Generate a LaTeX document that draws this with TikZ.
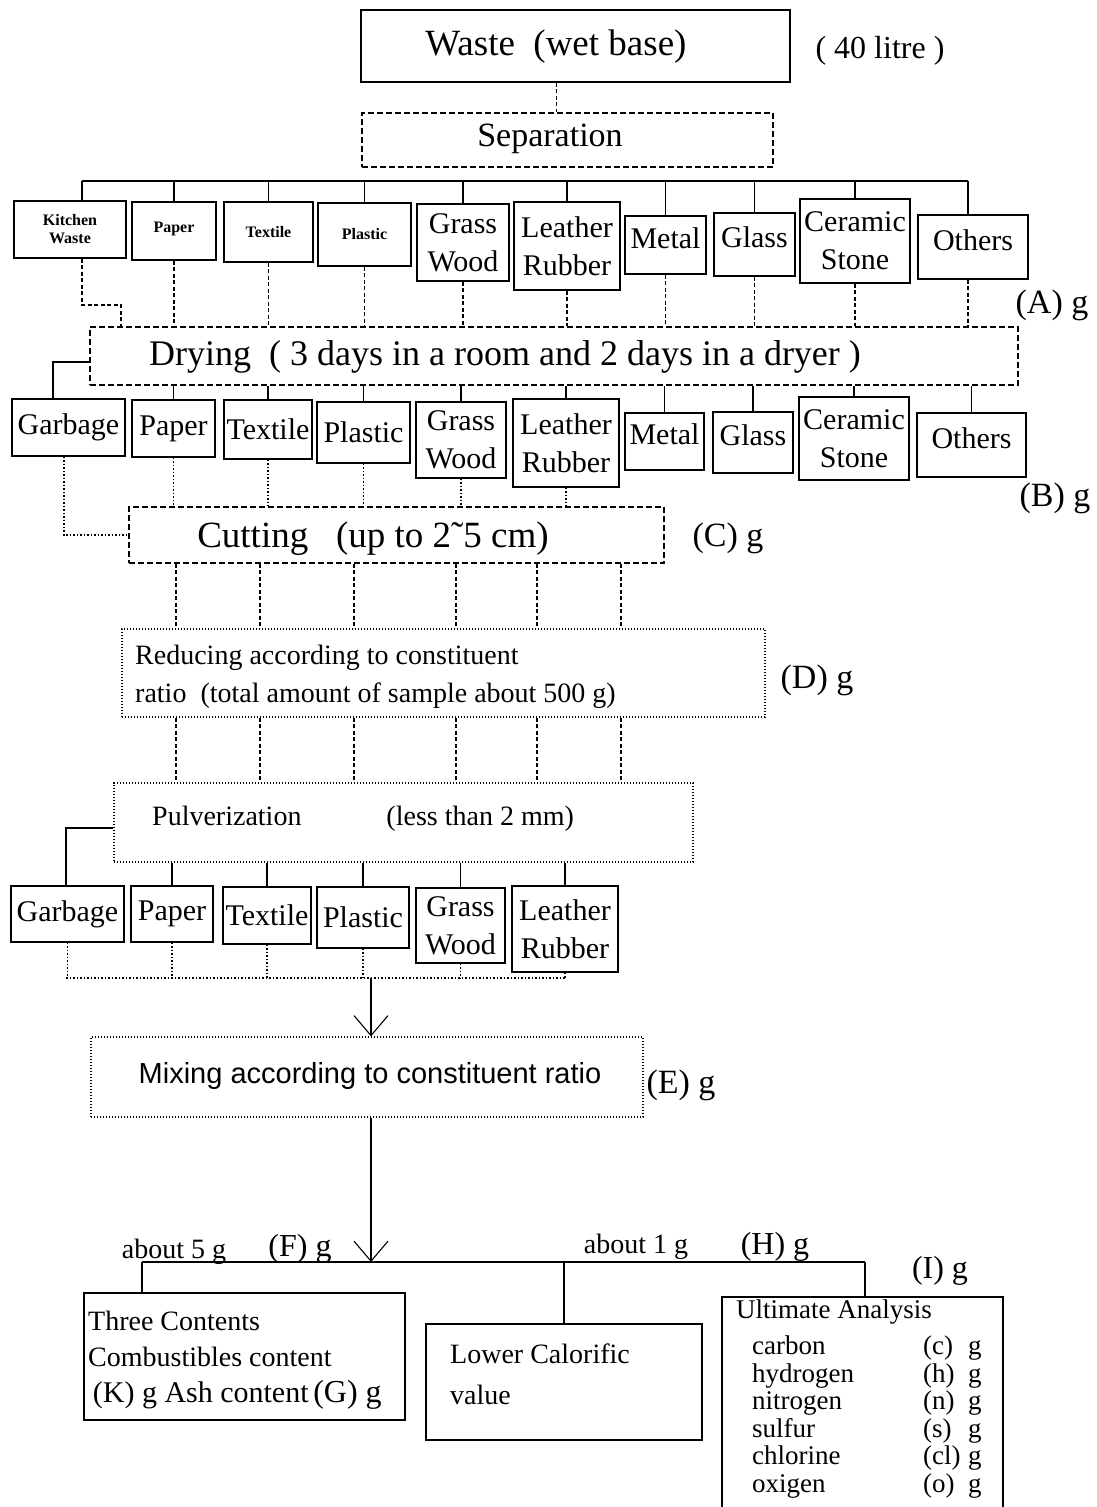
\documentclass[tikz,border=0pt]{standalone}
\usepackage{fontspec}
\setmainfont{Liberation Serif}
\newfontfamily\arialf{Liberation Sans}
\usetikzlibrary{arrows.meta,positioning}

\begin{document}
\begin{tikzpicture}[x=1pt,y=-1pt,
  boxat/.style n args={4}{at={({(#1+#3)/2},{(#2+#4)/2})},minimum width={(#3-#1)*1pt},minimum height={(#4-#2)*1pt}},
  bx/.style={draw,line width=1.1pt,inner sep=0pt,align=center},
  dbx/.style={bx,dash pattern=on 6pt off 3pt},
  obx/.style={bx,dash pattern=on 1.2pt off 1.8pt},
  ln/.style={line width=1.1pt},
  dln/.style={ln,dash pattern=on 4pt off 2.5pt},
  oln/.style={ln,dash pattern=on 1.5pt off 2pt},
  arr/.style={ln,-{Straight Barb[length=20pt,width=34pt]}},
  sm/.style={font=\bfseries\fontsize{16}{18}\selectfont},
  lg/.style={font=\fontsize{30}{38}\selectfont},
  hi/.style={text depth=14pt},
  tx/.style={inner sep=0pt,font=\fontsize{28}{36}\selectfont},
  gx/.style={inner sep=0pt,font=\fontsize{34}{38}\selectfont}]
\useasboundingbox (0,0) rectangle (1096,1507);

\node[bx,boxat={361}{10}{790}{82}] (waste) {};
\node[inner sep=0pt,font=\fontsize{37}{40}\selectfont] (wastet) at (556,47) {Waste\hspace{0.5em}(wet base)};
\node[inner sep=0pt,font=\fontsize{32}{36}\selectfont] (litre) at (880,51) {( 40 litre )};
\node[dbx,boxat={362}{113}{773}{167}] (sep) {};
\node[inner sep=0pt,font=\fontsize{34}{38}\selectfont] (sept) at (550,139) {Separation};

\node[bx,sm,boxat={14}{201}{126}{258}] (kw) {Kitchen\\Waste};
\node[bx,sm,boxat={132}{202}{216}{260},text depth=8pt] (pa1) {Paper};
\node[bx,sm,boxat={224}{202}{313}{262}] (te1) {Textile};
\node[bx,sm,boxat={318}{203}{411}{266}] (pl1) {Plastic};
\node[bx,lg,boxat={417}{204}{509}{281}] (gw1) {Grass\\Wood};
\node[bx,lg,boxat={514}{202}{620}{290}] (lr1) {Leather\\Rubber};
\node[bx,lg,hi,boxat={625}{216}{706}{274}] (me1) {Metal};
\node[bx,lg,hi,boxat={714}{213}{795}{276}] (gl1) {Glass};
\node[bx,lg,boxat={800}{199}{910}{283}] (cs1) {Ceramic\\Stone};
\node[bx,lg,hi,boxat={918}{215}{1028}{279}] (ot1) {Others};
\node[gx] (ag) at (1052,305) {(A) g};

\coordinate (kx) at (82,181);
\coordinate (ox) at (968,181);
\draw[ln] (kx) -- (ox);
\draw[ln] (kx) -- (kx |- kw.north);
\draw[ln] (pa1.north) -- (pa1.north |- kx);
\draw[ln] (te1.north) -- (te1.north |- kx);
\draw[ln] (pl1.north) -- (pl1.north |- kx);
\draw[ln] (gw1.north) -- (gw1.north |- kx);
\draw[ln] (lr1.north) -- (lr1.north |- kx);
\draw[ln] (me1.north) -- (me1.north |- kx);
\draw[ln] (gl1.north) -- (gl1.north |- kx);
\draw[ln] (cs1.north) -- (cs1.north |- kx);
\draw[ln] (ox) -- (ox |- ot1.north);
\draw[dln] (waste.south) ++(-19,0) coordinate (wd) -- (wd |- sep.north);

\node[dbx,boxat={90}{327}{1018}{385}] (dry) {};
\node[inner sep=0pt,font=\fontsize{36}{40}\selectfont] (dryt) at (505,357) {Drying\ \ ( 3 days in a room and 2 days in a dryer )};

\coordinate (ke) at (121,305);
\draw[dln] (kx |- kw.south) |- (ke) -- (ke |- dry.north);
\draw[dln] (pa1.south) -- (pa1.south |- dry.north);
\draw[dln] (te1.south) -- (te1.south |- dry.north);
\draw[dln] (pl1.south) -- (pl1.south |- dry.north);
\draw[dln] (gw1.south) -- (gw1.south |- dry.north);
\draw[dln] (lr1.south) -- (lr1.south |- dry.north);
\draw[dln] (me1.south) -- (me1.south |- dry.north);
\draw[dln] (gl1.south) -- (gl1.south |- dry.north);
\draw[dln] (cs1.south) -- (cs1.south |- dry.north);
\draw[dln] (ox |- ot1.south) -- (ox |- dry.north);

\node[bx,lg,boxat={12}{399}{125}{456}] (ga2) {Garbage};
\node[bx,lg,boxat={132}{400}{215}{457}] (pa2) {Paper};
\node[bx,lg,boxat={224}{400}{312}{459}] (te2) {Textile};
\node[bx,lg,boxat={317}{402}{410}{463}] (pl2) {Plastic};
\node[bx,lg,boxat={416}{402}{506}{478}] (gw2) {Grass\\Wood};
\node[bx,lg,boxat={513}{399}{619}{487}] (lr2) {Leather\\Rubber};
\node[bx,lg,hi,boxat={625}{413}{704}{470}] (me2) {Metal};
\node[bx,lg,hi,boxat={713}{412}{793}{473}] (gl2) {Glass};
\node[bx,lg,boxat={799}{397}{909}{480}] (cs2) {Ceramic\\Stone};
\node[bx,lg,hi,boxat={917}{413}{1026}{477}] (ot2) {Others};
\node[gx] (bg) at (1055,498) {(B) g};

\coordinate (gk) at (53,362);
\draw[ln] (dry.west |- gk) -- (gk) -- (gk |- ga2.north);
\draw[ln] (pa2.north) -- (pa2.north |- dry.south);
\draw[ln] (te2.north) -- (te2.north |- dry.south);
\draw[ln] (pl2.north) -- (pl2.north |- dry.south);
\draw[ln] (gw2.north) -- (gw2.north |- dry.south);
\draw[ln] (lr2.north) -- (lr2.north |- dry.south);
\draw[ln] (me2.north) -- (me2.north |- dry.south);
\draw[ln] (gl2.north) -- (gl2.north |- dry.south);
\draw[ln] (cs2.north) -- (cs2.north |- dry.south);
\draw[ln] (ot2.north) -- (ot2.north |- dry.south);

\node[dbx,boxat={129}{507}{664}{563}] (cut) {};
\node[inner sep=0pt,font=\fontsize{37}{40}\selectfont] (cutt) at (373,539) {Cutting\ \ \ (up to 2\symbol{"02DC}5 cm)};
\node[gx] (cg) at (728,538) {(C) g};

\coordinate (gc) at (64,535);
\draw[oln] (ga2.south -| gc) -- (gc) -- (cut.west |- gc);
\draw[oln] (pa2.south) -- (pa2.south |- cut.north);
\draw[oln] (te2.south) -- (te2.south |- cut.north);
\draw[oln] (pl2.south) -- (pl2.south |- cut.north);
\draw[oln] (gw2.south) -- (gw2.south |- cut.north);
\draw[oln] (lr2.south) -- (lr2.south |- cut.north);

\node[obx,boxat={122}{629}{765}{717}] (red) {};
\node[tx,anchor=west,align=left,font=\fontsize{28}{38}\selectfont] (redt) at (135,677) {Reducing according to constituent\\ratio\ \ (total amount of sample about 500 g)};
\node[gx] (dg) at (817,680) {(D) g};

\coordinate (c1) at (176,600);
\coordinate (c2) at (260,600);
\coordinate (c3) at (354,600);
\coordinate (c4) at (456,600);
\coordinate (c5) at (537,600);
\coordinate (c6) at (621,600);
\draw[dln] (cut.south -| c1) -- (red.north -| c1);
\draw[dln] (cut.south -| c2) -- (red.north -| c2);
\draw[dln] (cut.south -| c3) -- (red.north -| c3);
\draw[dln] (cut.south -| c4) -- (red.north -| c4);
\draw[dln] (cut.south -| c5) -- (red.north -| c5);
\draw[dln] (cut.south -| c6) -- (red.north -| c6);

\node[obx,boxat={114}{783}{693}{862}] (pul) {};
\node[tx,anchor=west] (pult) at (152,819) {Pulverization\hspace{85pt}(less than 2 mm)};
\draw[dln] (red.south -| c1) -- (pul.north -| c1);
\draw[dln] (red.south -| c2) -- (pul.north -| c2);
\draw[dln] (red.south -| c3) -- (pul.north -| c3);
\draw[dln] (red.south -| c4) -- (pul.north -| c4);
\draw[dln] (red.south -| c5) -- (pul.north -| c5);
\draw[dln] (red.south -| c6) -- (pul.north -| c6);

\node[bx,lg,boxat={11}{886}{124}{942}] (ga3) {Garbage};
\node[bx,lg,boxat={131}{886}{213}{942}] (pa3) {Paper};
\node[bx,lg,boxat={223}{887}{311}{944}] (te3) {Textile};
\node[bx,lg,boxat={317}{887}{409}{948}] (pl3) {Plastic};
\node[bx,lg,boxat={416}{888}{505}{963}] (gw3) {Grass\\Wood};
\node[bx,lg,boxat={512}{886}{618}{972}] (lr3) {Leather\\Rubber};

\coordinate (pg) at (66,828);
\draw[ln] (pul.west |- pg) -- (pg) -- (pg |- ga3.north);
\draw[ln] (pa3.north) -- (pa3.north |- pul.south);
\draw[ln] (te3.north) -- (te3.north |- pul.south);
\draw[ln] (pl3.north) -- (pl3.north |- pul.south);
\draw[ln] (gw3.north) -- (gw3.north |- pul.south);
\draw[ln] (lr3.north) -- (lr3.north |- pul.south);

\coordinate (b3) at (66,978);
\coordinate (b3r) at (565,978);
\draw[oln] (b3) -- (b3r);
\draw[oln] (ga3.south) -- (ga3.south |- b3);
\draw[oln] (pa3.south) -- (pa3.south |- b3);
\draw[oln] (te3.south) -- (te3.south |- b3);
\draw[oln] (pl3.south) -- (pl3.south |- b3);
\draw[oln] (gw3.south) -- (gw3.south |- b3);
\draw[oln] (lr3.south) -- (lr3.south |- b3);

\node[obx,boxat={91}{1037}{643}{1117}] (mix) {};
\node[inner sep=0pt,font=\arialf\fontsize{29}{33}\selectfont] (mixt) at (370,1076) {Mixing according to constituent ratio};
\node[gx] (eg) at (681,1085) {(E) g};

\coordinate (mx) at (371,1000);
\coordinate (bl) at (142,1262);
\coordinate (br) at (865,1262);
\draw[arr] (b3 -| mx) -- (mix.north -| mx);
\draw[arr] (mix.south -| mx) -- (bl -| mx);

\node[tx] (ab5) at (174,1252) {about 5 g};
\node[gx,font=\fontsize{32}{36}\selectfont] (fg) at (300,1249) {(F) g};
\node[tx] (ab1) at (636,1247) {about 1 g};
\node[gx,font=\fontsize{32}{36}\selectfont] (hg) at (775,1247) {(H) g};
\node[gx,font=\fontsize{32}{36}\selectfont] (ig) at (940,1271) {(I) g};

\node[bx,boxat={84}{1293}{405}{1420}] (three) {};
\node[tx,anchor=west,align=left] (threet) at (88,1360) {Three Contents\\Combustibles content\\\,{\fontsize{30}{36}\selectfont(K) g Ash content}\,{\fontsize{32}{36}\selectfont(G) g}};
\node[bx,boxat={426}{1324}{702}{1440}] (lcv) {};
\node[tx,anchor=west,align=left,font=\fontsize{28}{41}\selectfont] (lcvt) at (450,1374) {Lower Calorific\\value};
\node[bx,boxat={722}{1297}{1003}{1512}] (ult) {};
\node[tx,anchor=west,font=\fontsize{27}{30}\selectfont] (ultt) at (736,1312) {Ultimate Analysis};
\node[tx,anchor=north west,font=\fontsize{27}{27.6}\selectfont] (ultr) at (752,1335) {\begin{tabular}{@{}p{171pt}@{}p{45pt}@{}l@{}}carbon&(c)&g\\hydrogen&(h)&g\\nitrogen&(n)&g\\sulfur&(s)&g\\chlorine&(cl)&g\\oxigen&(o)&g\end{tabular}};

\draw[ln] (bl) -- (br);
\draw[ln] (bl) -- (bl |- three.north);
\draw[ln] (lcv.north) -- (lcv.north |- bl);
\draw[ln] (br) -- (br |- ult.north);
\end{tikzpicture}
\end{document}
